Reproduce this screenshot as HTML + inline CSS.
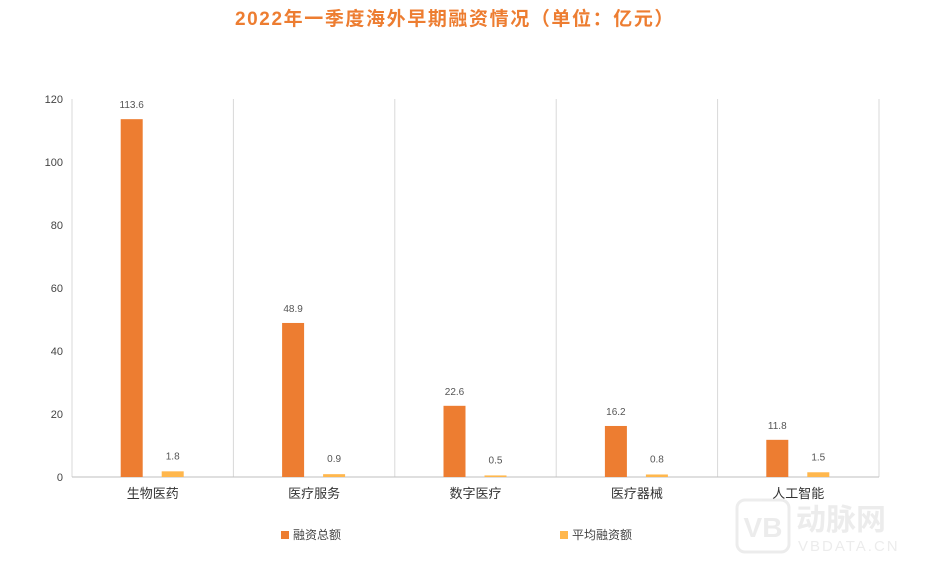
<!DOCTYPE html>
<html><head><meta charset="utf-8">
<style>
body{margin:0;width:930px;height:565px;background:#fff;font-family:"Liberation Sans","Noto Sans CJK SC",sans-serif;overflow:hidden}
</style></head>
<body>
<svg id="chart" width="930" height="565" xmlns="http://www.w3.org/2000/svg">
<text x="455" y="25" text-anchor="middle" font-size="19" font-weight="bold" fill="#ED7D31" letter-spacing="1.6" font-family="Liberation Sans, Noto Sans CJK SC, sans-serif">2022年一季度海外早期融资情况（单位：亿元）</text>
<g id="grid"></g><g id="bars"></g><g id="labels"></g>
<g>
<rect x="281" y="531" width="8" height="8" fill="#ED7D31"/>
<text x="293" y="539" font-size="12" fill="#444">融资总额</text>
<rect x="560" y="531" width="8" height="8" fill="#FFB74D"/>
<text x="572" y="539" font-size="12" fill="#444">平均融资额</text>
</g>
<g opacity="0.18">
<rect x="737" y="500" width="52" height="52" rx="8" fill="none" stroke="#999" stroke-width="3"/>
<text x="763" y="537" text-anchor="middle" font-size="28" font-weight="bold" fill="#999">VB</text>
<text x="796" y="530" font-size="30" font-weight="bold" fill="#999">动脉网</text>
<text x="798" y="551" font-size="15" fill="#999" letter-spacing="2">VBDATA.CN</text>
</g>
</svg>
<script>
const categories=["生物医药","医疗服务","数字医疗","医疗器械","人工智能"];
const totalValues=[113.6,48.9,22.6,16.2,11.8];
const avgValues=[1.8,0.9,0.5,0.8,1.5];
const yTicks=[0,20,40,60,80,100,120];
const NS="http://www.w3.org/2000/svg";
const L=72,R=879,T=99,B=477,yMax=120;
const band=(R-L)/categories.length;
const y=v=>B-(v/yMax)*(B-T);
const xc=i=>L+band*(i+0.5);
function mk(tag,attrs,parent,txt){const e=document.createElementNS(NS,tag);for(const k in attrs)e.setAttribute(k,attrs[k]);if(txt!==undefined)e.textContent=txt;parent.appendChild(e);return e;}
const grid=document.getElementById('grid'),bars=document.getElementById('bars'),labels=document.getElementById('labels');
yTicks.forEach(t=>{
  const e=mk('text',{x:L-9,y:y(t)+4,'text-anchor':'end','font-size':11,fill:'#444'},labels,t);
  
  
});
for(let i=0;i<=categories.length;i++){
  const x=L+band*i;
  const e=mk('line',{x1:x,x2:x,y1:T,y2:B,stroke:'#d9d9d9','stroke-width':1},grid);
  
  
}
const ax=mk('line',{x1:L,x2:R,y1:B,y2:B,stroke:'#bfbfbf','stroke-width':1},grid);


const bw=22;
categories.forEach((c,i)=>{
  const cx=xc(i);
  const tl=mk('text',{x:cx,y:B+21,'text-anchor':'middle','font-size':13,fill:'#333'},labels,c);
  
  
  const ox=cx-21-bw/2;
  const b1=mk('rect',{x:ox,y:y(totalValues[i]),width:bw,height:B-y(totalValues[i]),fill:'#ED7D31'},bars);
  
  
  const l1=mk('text',{x:ox+bw/2,y:y(totalValues[i])-11,'text-anchor':'middle','font-size':10,fill:'#555'},labels,totalValues[i]);
  
  
  const ax2=cx+20-bw/2;
  const b2=mk('rect',{x:ax2,y:y(avgValues[i]),width:bw,height:B-y(avgValues[i]),fill:'#FFB74D'},bars);
  
  
  const l2=mk('text',{x:ax2+bw/2,y:y(avgValues[i])-12,'text-anchor':'middle','font-size':10,fill:'#555'},labels,avgValues[i]);
  
  
});
</script>
</body></html>
